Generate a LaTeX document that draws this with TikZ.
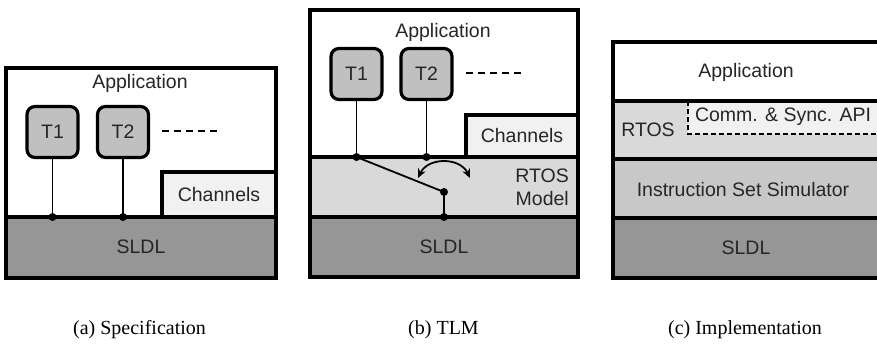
\documentclass[tikz,border=0pt]{standalone}
\usepackage{fontspec}
\setmainfont{Liberation Serif}
\setsansfont{Liberation Sans}
\usetikzlibrary{arrows.meta}
\definecolor{sldlgray}{RGB}{150,150,150}
\definecolor{rtosgray}{RGB}{217,217,217}
\definecolor{changray}{RGB}{241,241,241}
\definecolor{taskgray}{RGB}{192,192,192}
\definecolor{issgray}{RGB}{200,200,200}
\definecolor{txtgray}{RGB}{38,38,38}
\tikzset{
  boxline/.style={line width=3.2pt, line join=miter},
  lbl/.style={inner sep=0pt, text=txtgray, font=\sffamily\fontsize{19.5}{23}\selectfont},
  task/.style={draw, line width=3.2pt, rounded corners=8pt, fill=taskgray, minimum width=51pt, minimum height=51pt, inner sep=0pt, text=txtgray, font=\sffamily\fontsize{19.5}{23}\selectfont},
  conn/.style={line width=1.8pt},
  dotted line/.style={line width=1.8pt, dash pattern=on 7pt off 5pt},
  capt/.style={inner sep=0pt, font=\rmfamily\fontsize{20}{24}\selectfont},
  pin/.style={circle, fill=black, inner sep=0pt, minimum size=8pt}
}
\begin{document}
\begin{tikzpicture}[x=1pt,y=-1pt]
\useasboundingbox (0,0) rectangle (877,346);
\clip (0,0) rectangle (877,346);

% ---------- (a) Specification ----------
\fill[white] (6,68) rectangle (276,278);
\fill[changray] (162,172) rectangle (276,217);
\draw[boxline, fill=sldlgray] (6,217) rectangle (276,278);
\draw[boxline] (162,217) |- (276,172);
\draw[boxline] (6,68) rectangle (276,278);
\node[lbl] (aapp) at (140,83) {Application};
\node[task] (at1) at (52.5,132) {T1};
\node[task] (at2) at (123,132) {T2};
\coordinate (ab1) at (52.5,217);
\coordinate (ab2) at (123,217);
\draw[conn] (at1) -- (ab1);
\draw[conn] (at2) -- (ab2);
\node[pin] (ad1) at (ab1) {};
\node[pin] (ad2) at (ab2) {};
\coordinate (adash1) at (162,131);
\coordinate (adash2) at (218,131);
\draw[dotted line] (adash1) -- (adash2);
\node[lbl] (ach) at (219,195) {Channels};
\node[lbl] (asldl) at (141,247) {SLDL};

% ---------- (b) TLM ----------
\fill[white] (310,10) rectangle (578,277);
\fill[changray] (466,115) rectangle (578,157);
\draw[boxline, fill=rtosgray] (310,157) rectangle (578,217);
\draw[boxline, fill=sldlgray] (310,217) rectangle (578,277);
\draw[boxline] (466,157) |- (578,115);
\draw[boxline] (310,10) rectangle (578,277);
\node[lbl] (bapp) at (443,32) {Application};
\node[task] (bt1) at (356.5,74) {T1};
\node[task] (bt2) at (426.5,74) {T2};
\coordinate (bb1) at (356.5,157);
\coordinate (bb2) at (426.5,157);
\coordinate (bsw) at (444,192);
\coordinate (bbot) at (444,217);
\draw[conn] (bt1) -- (bb1);
\draw[conn] (bt2) -- (bb2);
\draw[conn] (bb1) -- (bsw) -- (bbot);
\node[pin] (bd1) at (bb1) {};
\node[pin] (bd2) at (bb2) {};
\node[pin] (bd3) at (bsw) {};
\node[pin] (bd4) at (bbot) {};
\coordinate (barcL) at (418,178);
\coordinate (barcR) at (470,178);
\draw[conn, {Stealth[length=9pt,width=8pt]}-{Stealth[length=9pt,width=8pt]}] (barcL) .. controls (428,157) and (460,157) .. (barcR);
\coordinate (bdash1) at (466,73);
\coordinate (bdash2) at (521,73);
\draw[dotted line] (bdash1) -- (bdash2);
\node[lbl] (bch) at (522,136) {Channels};
\node[lbl, align=right, anchor=east] (brtos) at (569,187) {RTOS\\Model};
\node[lbl] (bsldl) at (444,247) {SLDL};

% ---------- (c) Implementation ----------
\fill[white] (613,42) rectangle (890,101);
\fill[rtosgray] (613,101) rectangle (890,159);
\fill[changray] (688,101) rectangle (890,134);
\draw[line width=1.6pt, dash pattern=on 5pt off 3pt] (688,101) |- (890,134);
\fill[issgray] (613,159) rectangle (890,218);
\fill[sldlgray] (613,218) rectangle (890,278);
\draw[boxline] (613,101) -- (890,101);
\draw[boxline] (613,159) -- (890,159);
\draw[boxline] (613,218) -- (890,218);
\draw[boxline] (613,42) rectangle (890,278);
\node[lbl] (capp) at (746,72) {Application};
\node[lbl] (crtos) at (648,129.5) {RTOS};
\node[lbl] (capi) at (783,117) {Comm. \& Sync. API};
\node[lbl] (ciss) at (743,190) {Instruction Set Simulator};
\node[lbl] (csldl) at (746,248) {SLDL};

% ---------- captions ----------
\node[capt] (capa) at (139.5,330) {(a) Specification};
\node[capt] (capb) at (443.5,330) {(b) TLM};
\node[capt] (capc) at (745,330) {(c) Implementation};
\end{tikzpicture}
\end{document}
